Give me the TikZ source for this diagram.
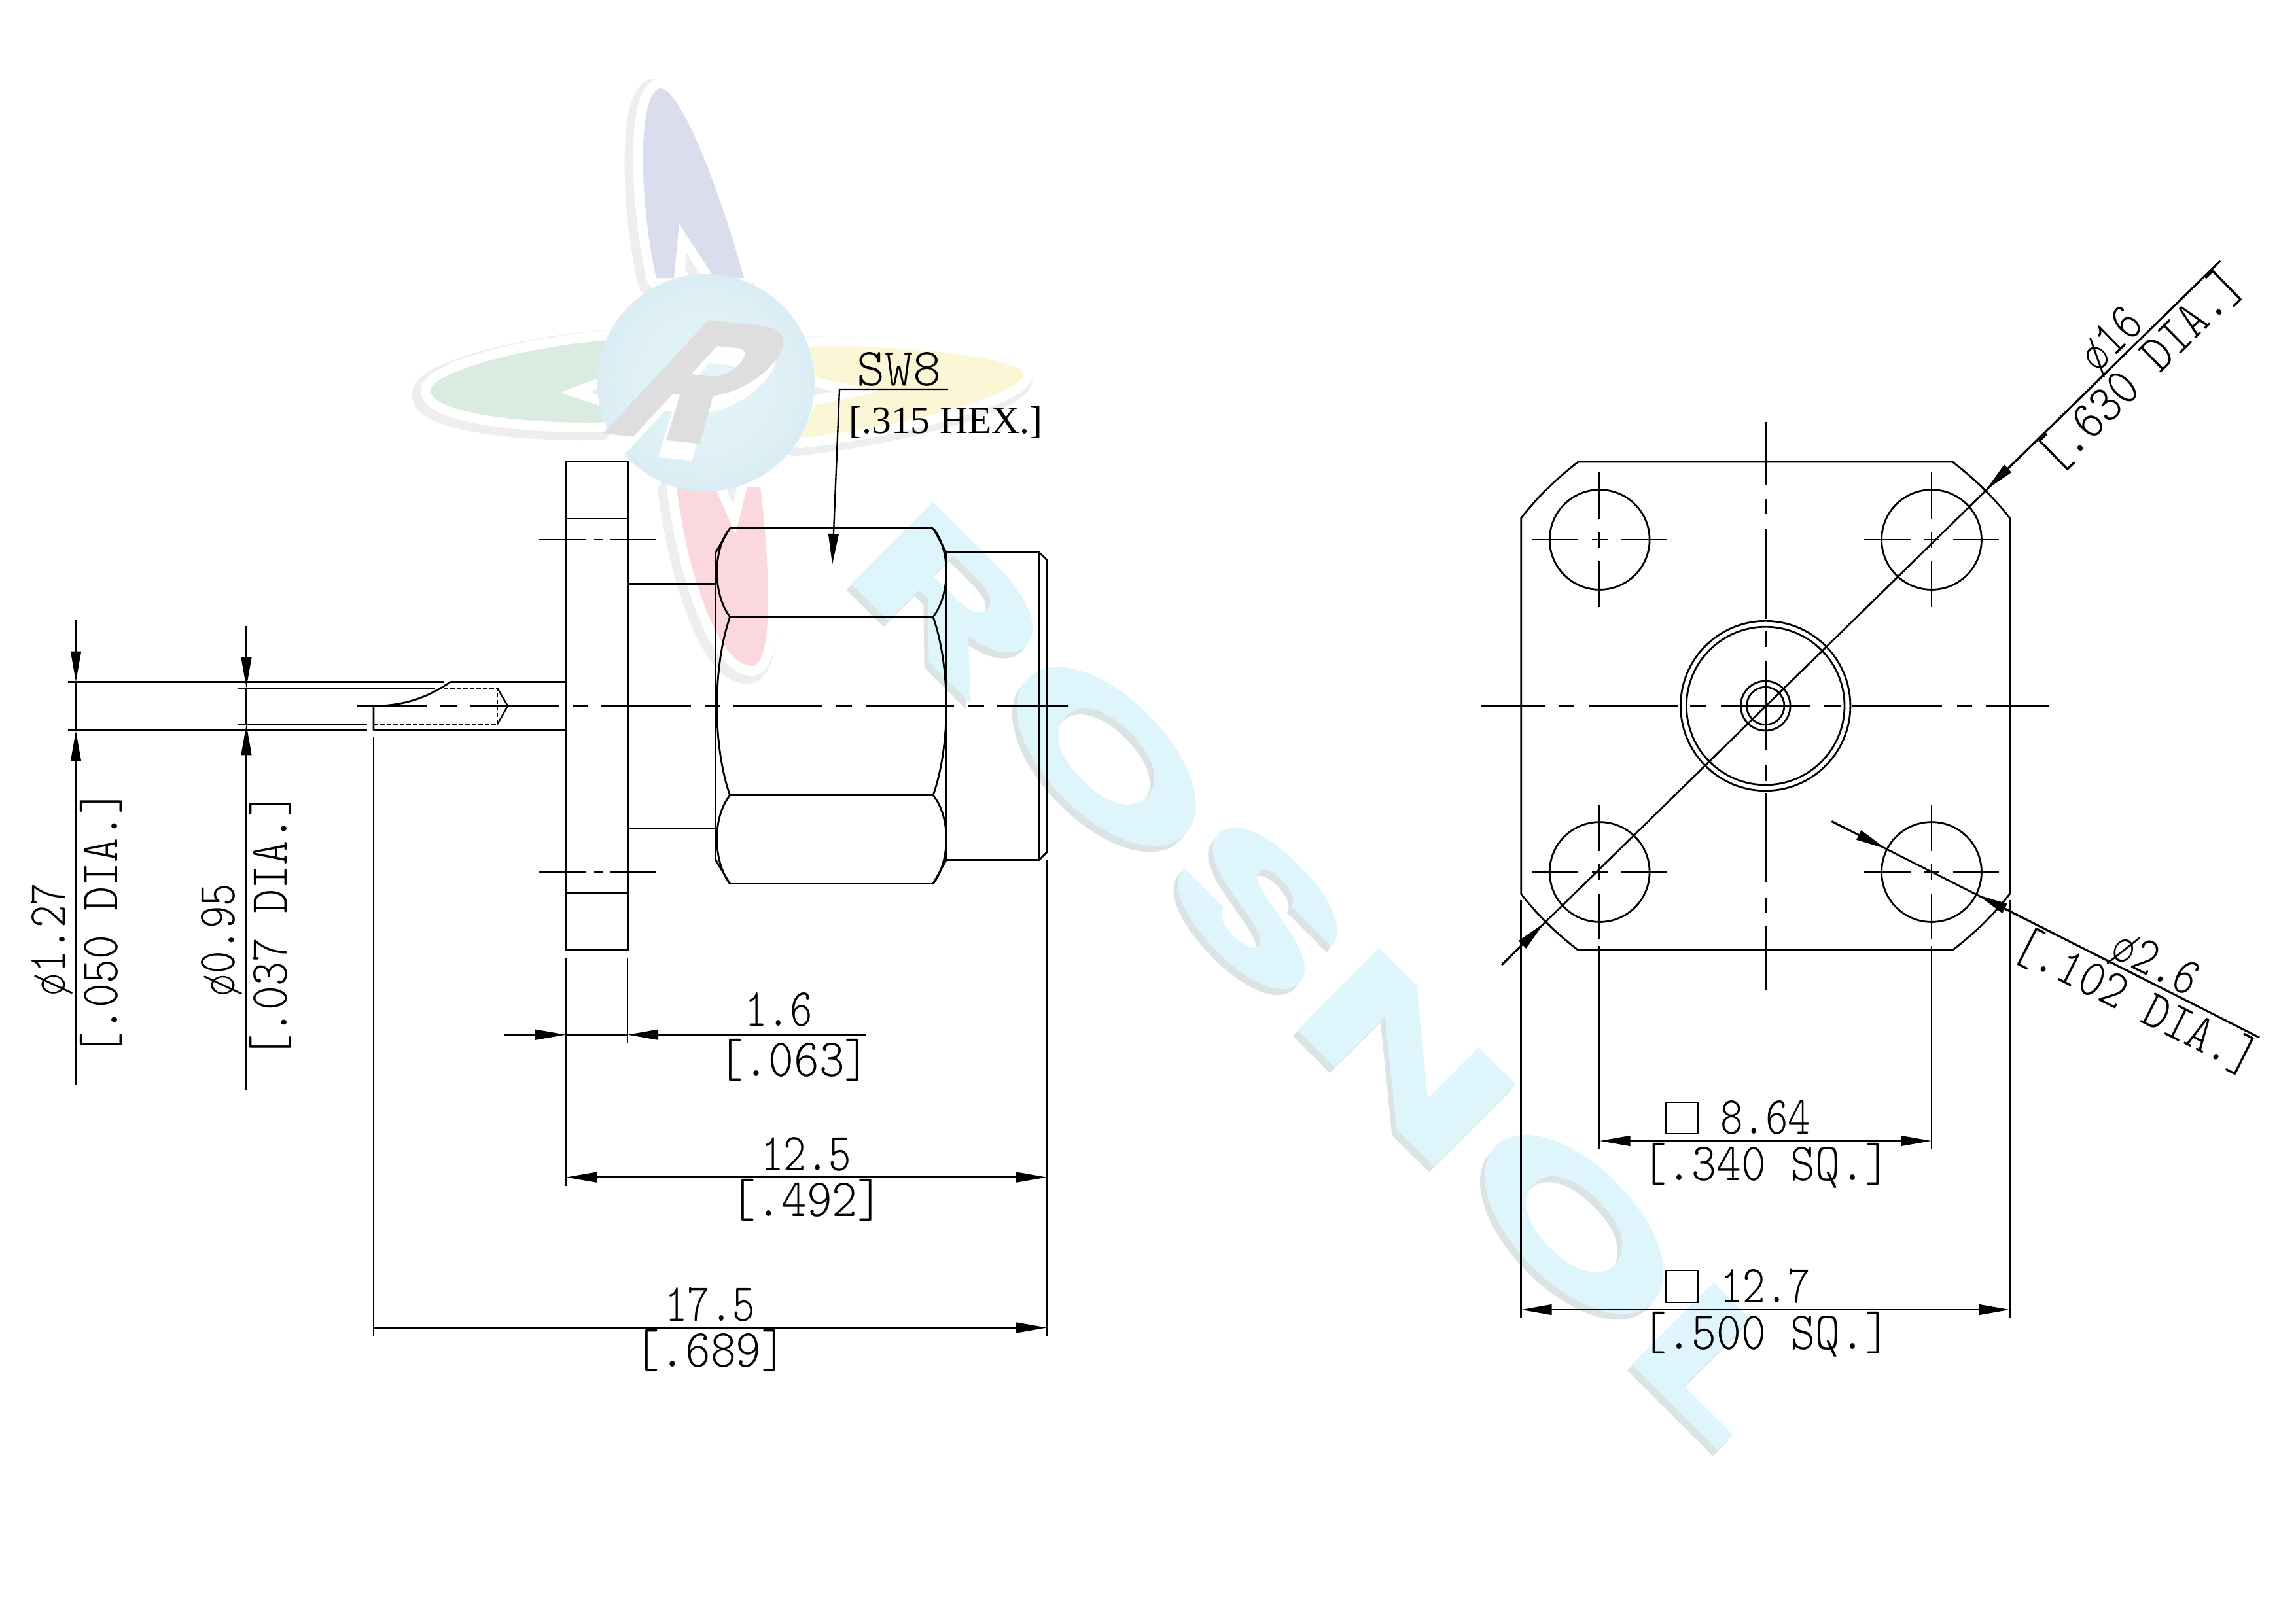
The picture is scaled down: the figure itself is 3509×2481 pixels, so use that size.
\documentclass[tikz,border=0pt]{standalone}
\usepackage{fontspec}
\usetikzlibrary{arrows.meta}
\newfontfamily\wmfont{Poppins}
\newfontfamily\hexfont{Liberation Serif}
\newcommand\cadfont{\ttfamily\fontseries{l}\fontsize{16.4}{18}\selectfont}
\newcommand\cadt[1]{\scalebox{.8}[1]{#1}}
\newcommand\cadb[1]{\scalebox{.9}[1]{#1}}
\newcommand\cads[1]{\scalebox{.88}[1]{#1}}
\newcommand\cadd[1]{\scalebox{.86}[1]{#1}}
\definecolor{wmcyan}{HTML}{DFF5FC}
\definecolor{wmshadow}{HTML}{DCE3E5}
\definecolor{halo}{HTML}{EEEEEE}
\definecolor{petblue}{HTML}{D9DDEE}
\definecolor{petred}{HTML}{FAD8DD}
\definecolor{petgreen}{HTML}{DAECDF}
\definecolor{petyellow}{HTML}{FBF7D6}
\definecolor{ballin}{HTML}{E6F6FA}
\definecolor{ballout}{HTML}{DBEDF4}
\def\petA{(1003,425) .. controls (975,300) and (975,140) .. (1009,135) .. controls (1040,135) and (1100,290) .. (1137,425) -- (1092,425) -- (1038,342) -- (1030,425) -- cycle}
\def\petB{(1034,744) .. controls (1050,880) and (1100,1018) .. (1149,1018) .. controls (1185,1018) and (1175,850) .. (1162,744) -- (1142,744) -- (1124,817) -- (1092,744) -- cycle}
\def\petC{(930,520) .. controls (800,530) and (658,570) .. (658,597) .. controls (658,630) and (800,650) .. (935,645) -- (930,625) -- (856,600) -- (930,572) -- cycle}
\def\petD{(1235,530) .. controls (1350,525) and (1564,545) .. (1564,572) .. controls (1564,600) and (1400,650) .. (1223,670) -- (1245,620) -- (1345,598) -- (1240,575) -- cycle}
\tikzset{
  >={Triangle[length=9.4pt,width=3.1pt]},
  ln/.style={line width=.56pt,line cap=butt},
  hid/.style={ln,line width=.48pt,dash pattern=on 1.3pt off .7pt},
  cad/.style={font=\cadfont,inner sep=0pt,anchor=base},
  petal halo/.style={draw=halo,line width=8.5pt,line join=round,xshift=-1.4pt,yshift=-1.2pt},
  petal white/.style={draw=white,line width=6pt,line join=round},
}
\begin{document}
\begin{tikzpicture}[x=.2pt,y=-.2pt]
\path[use as bounding box,fill=white] (0,0) rectangle (3509,2481);
% ---------- logo watermark
\path[petal halo] \petA; \path[petal halo] \petB; \path[petal halo] \petC; \path[petal halo] \petD;
\path[petal white] \petA; \path[petal white] \petB; \path[petal white] \petC; \path[petal white] \petD;
\fill[petblue] \petA; \fill[petred] \petB; \fill[petgreen] \petC; \fill[petyellow] \petD;
\shade[inner color=ballin,outer color=ballout] (1079,585) circle[radius=166];
\node[transform shape,rotate=-6,xslant=.75,inner sep=0pt,text=white,font=\wmfont\bfseries\fontsize{54}{54}\selectfont] (logoRw) at (1062,610) {R};
\node[transform shape,rotate=-6,xslant=.75,inner sep=0pt,text=black!13,font=\wmfont\bfseries\fontsize{54}{54}\selectfont] (logoR) at (1074,584) {R};
% ---------- ROSNOL watermark
\node[rotate=-45,anchor=south west,inner sep=0pt,text=wmshadow,font=\wmfont\bfseries] (wmS) at (1271,883) {\resizebox{382pt}{36pt}{ROSNOL}};
\node[rotate=-45,anchor=south west,inner sep=0pt,text=wmcyan,font=\wmfont\bfseries] (wm) at (1278,874) {\resizebox{382pt}{36pt}{ROSNOL}};
% ---------- left view: flange
\draw[ln] (865,705.5) rectangle (959.5,1452.5);
\draw[ln] (865,793) -- (959.5,793) (865,1365.5) -- (959.5,1365.5);
\foreach \y in {825,1332.6}{\draw[ln] (824,\y) -- (895,\y) (908,\y) -- (920.5,\y) (933,\y) -- (1002,\y);}
\draw[ln] (959.5,892.5) -- (1094,892.5) (959.5,1266) -- (1094,1266);
% nut
\draw[ln] (1094,844) -- (1094,1314.8) (1446,844) -- (1446,1314.8);
\draw[ln] (1115.6,807.5) -- (1426,807.5) (1115.6,943) -- (1426,943) (1115.6,1215.7) -- (1426,1215.7) (1115.6,1351) -- (1426,1351);
\draw[ln] (1115.6,807.5) -- (1094,844) (1426,807.5) -- (1446,844) (1115.6,1351) -- (1094,1314.8) (1426,1351) -- (1446,1314.8);
\draw[ln] (1115.6,807.5) .. controls (1089,840) and (1089,908) .. (1115.6,943)
          .. controls (1089,1020) and (1089,1140) .. (1115.6,1215.7)
          .. controls (1089,1248) and (1089,1316) .. (1115.6,1351);
\draw[ln] (1426,807.5) .. controls (1453,840) and (1453,908) .. (1426,943)
          .. controls (1453,1020) and (1453,1140) .. (1426,1215.7)
          .. controls (1453,1248) and (1453,1316) .. (1426,1351);
% collar
\draw[ln] (1446,844.4) -- (1588,844.4) -- (1588,1314.8) -- (1446,1314.8);
\draw[ln] (1588,844.4) -- (1600,856) -- (1600,1302.5) -- (1588,1314.8);
% pin
\draw[ln] (104,1042.7) -- (678,1042.7) (688,1042.7) -- (865,1042.7);
\draw[ln] (104,1116.7) -- (560.7,1116.7) (571,1116.7) -- (865,1116.7);
\draw[ln,line width=.48pt] (363,1051.7) -- (665,1051.7) (363,1107.3) -- (560.7,1107.3);
\draw[ln] (571,1116.7) -- (571,1079) .. controls (620,1079) and (655,1065) .. (688,1042.7);
\draw[hid] (571,1107.3) -- (760,1107.3) -- (760,1051.7) -- (672,1051.7);
\draw[ln,line width=.48pt] (760,1051.7) -- (776,1079) -- (760,1107.3);
% axis of left view
\foreach \a/\b in {545.5/652,673/698,718/854,875/899,919/1056,1076.5/1100.5,1121/1256,1277/1302,1322.6/1458,1479/1504,1524/1632}{\draw[ln] (\a,1079) -- (\b,1079);}
% left view dimensions
\draw[ln,->] (116,947.4) -- (116,1042.7);
\draw[ln,->] (116,1658) -- (116,1116.7);
\draw[ln,->] (376.5,956.6) -- (376.5,1051.7);
\draw[ln,->] (376.5,1666) -- (376.5,1107.3);
\draw[ln] (116,1042.7) -- (116,1116.7) (376.5,1051.7) -- (376.5,1107.3);
\node[cad,rotate=90] (d127) at (100,1436) {\cadt{ø1.27}};
\node[cad,rotate=90] (d050) at (179,1411) {\cadd{[.050 DIA.]}};
\node[cad,rotate=90] (d095) at (358,1437) {\cadt{ø0.95}};
\node[cad,rotate=90] (d037) at (438,1415) {\cadd{[.037 DIA.]}};
\draw[ln] (865,1464) -- (865,1812.5) (959,1464) -- (959,1593.5);
\draw[ln] (571,1127) -- (571,2042) (1600,1314) -- (1600,2041.5);
\draw[ln,->] (770,1581.7) -- (865,1581.7);
\draw[ln,->] (1324,1581.7) -- (959,1581.7);
\draw[ln] (865,1581.7) -- (959,1581.7);
\draw[ln,<->] (865,1799.6) -- (1600,1799.6);
\draw[ln,->] (571,2029.5) -- (1600,2029.5);
\node[cad] (t16) at (1190,1568) {\cadt{1.6}};
\node[cad] (t063) at (1213.5,1645) {\cadb{[.063]}};
\node[cad] (t125) at (1232,1789) {\cadt{12.5}};
\node[cad] (t492) at (1233,1859) {\cadb{[.492]}};
\node[cad] (t175) at (1085,2019) {\cadt{17.5}};
\node[cad] (t689) at (1086,2089) {\cadb{[.689]}};
% SW8 leader
\draw[ln,line width=.48pt,->] (1449,595) -- (1283,595) -- (1272,863);
\node[cad] (sw8) at (1374,589) {SW8};
\node[inner sep=0pt,anchor=base,font=\hexfont\fontsize{11.9}{13}\selectfont] (hex) at (1445.5,662) {[.315 HEX.]};
% ---------- right view: plate
\draw[ln] (2412,706) -- (2984,706) .. controls (3016.5,731) and (3046.5,759.5) .. (3071.5,792)
  -- (3071.5,1366.5) .. controls (3046.5,1399) and (3016.5,1427.5) .. (2984,1452.5)
  -- (2412,1452.5) .. controls (2379.5,1427.5) and (2349.7,1399) .. (2324.7,1366.5)
  -- (2324.7,792) .. controls (2349.7,759.5) and (2379.5,731) .. (2412,706) -- cycle;
\foreach \cx/\cy in {2444.7/825,2952/825,2444.7/1333,2952/1333}{
  \begin{scope}[shift={(\cx,\cy)}]
    \draw[ln] (0,0) circle[radius=76.4];
    \draw[ln] (-103,0) -- (-32.5,0) (-12,0) -- (12,0) (32.5,0) -- (103,0);
    \draw[ln] (0,-103) -- (0,-32.5) (0,-12) -- (0,12) (0,32.5) -- (0,103);
  \end{scope}
}
\begin{scope}[shift={(2698.2,1079)}]
  \draw[ln] (0,0) circle[radius=129.7] (0,0) circle[radius=120.8] (0,0) circle[radius=37.9] (0,0) circle[radius=28.7];
  \foreach \s in {-1,1}{
    \draw[ln] (\s*133,0) -- (\s*270,0) (\s*293,0) -- (\s*316,0) (\s*337,0) -- (\s*434,0) (\s*90,0) -- (\s*115,0);
    \draw[ln] (0,\s*133) -- (0,\s*270) (0,\s*293) -- (0,\s*316) (0,\s*337) -- (0,\s*434) (0,\s*90) -- (0,\s*115);
  }
  \draw[ln] (-68,0) -- (68,0) (0,-68) -- (0,68);
\end{scope}
% diameter 16
\draw[ln] (2295,1475) -- (3393,399);
\draw[ln,->] (3393,399) -- (3035,749);
\draw[ln,->] (2295,1475) -- (2360,1411);
\node[cad,rotate=44.4] (d16) at (3242,535.5) {\cadt{ø16}};
\node[cad,rotate=44.4] (d630) at (3288.5,584.5) {\cadd{[.630 DIA.]}};
% diameter 2.6
\draw[ln] (2799.4,1255.6) -- (3453,1586);
\draw[ln,->] (2799.4,1255.6) -- (2882.7,1297.6);
\draw[ln,->] (3453,1586) -- (3022,1367.6);
\node[cad,rotate=-26.8] (d26) at (3284,1493) {\cadt{ø2.6}};
\node[cad,rotate=-26.8] (d102) at (3253,1553) {\cadd{[.102 DIA.]}};
% square dimensions
\draw[ln] (2444.7,1446) -- (2444.7,1756) (2952,1446) -- (2952,1756);
\draw[ln] (2324.7,1376) -- (2324.7,2015) (3071.5,1376) -- (3071.5,2015);
\draw[ln,<->] (2444.7,1744) -- (2952,1744);
\draw[ln,<->] (2324.7,2002) -- (3071.5,2002);
\draw[ln] (2546.4,1685) rectangle (2594.6,1733);
\draw[ln] (2546.4,1942) rectangle (2594.6,1991);
\node[cad] (t864) at (2698,1733) {\cadt{8.64}};
\node[cad] (t340) at (2699,1804) {\cads{[.340 SQ.]}};
\node[cad] (t127) at (2698,1991) {\cadt{12.7}};
\node[cad] (t500) at (2699,2062) {\cads{[.500 SQ.]}};
\end{tikzpicture}
\end{document}
